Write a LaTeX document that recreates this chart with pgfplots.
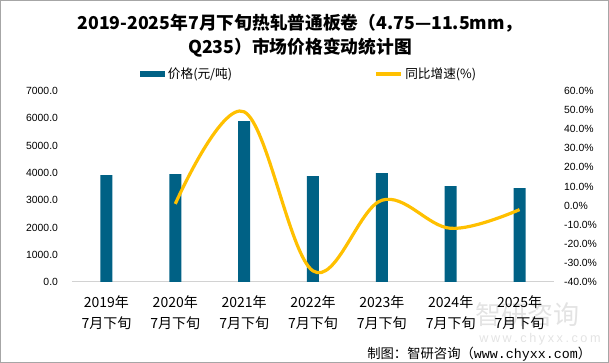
\documentclass[border=0pt]{standalone}
\usepackage{fontspec}
\setmainfont{Liberation Sans}
\newfontfamily\cjk{Noto Sans CJK SC}
\newfontfamily\mono{Liberation Mono}
\usepackage{pgfplots}
\pgfplotsset{compat=1.18}
\definecolor{barblue}{RGB}{0,97,133}
\definecolor{lineyel}{RGB}{255,192,0}
\begin{document}
\begin{tikzpicture}[x=1pt,y=1pt]
% frame
\draw[gray!70, line width=0.75pt] (-53.6,-60.4) rectangle (402.4,211.1);
% watermark
\node[font=\cjk\fontsize{19.5}{20}\selectfont, text=gray!22, anchor=west] at (299,-24.5) {智研咨询};
\node[font=\fontsize{9.5}{10}\selectfont, text=gray!22, anchor=west] at (302,-43) {w\hspace{1.9pt}w\hspace{1.9pt}w\hspace{1.9pt}.\hspace{1.9pt}c\hspace{1.9pt}h\hspace{1.9pt}y\hspace{1.9pt}x\hspace{1.9pt}x\hspace{1.9pt}.\hspace{1.9pt}c\hspace{1.9pt}o\hspace{1.9pt}m};
\begin{axis}[
  at={(0,0)}, anchor=south west,
  scale only axis, width=361.5pt, height=143.25pt,
  xmin=-0.5, xmax=6.5, ymin=0, ymax=7000,
  axis x line*=bottom, axis y line*=left,
  x axis line style={draw=gray!35, line width=0.75pt},
  y axis line style={draw=none},
  major tick length=0pt,
  xtick=data,
  xticklabels={{2019年\\7月下旬},{2020年\\7月下旬},{2021年\\7月下旬},{2022年\\7月下旬},{2023年\\7月下旬},{2024年\\7月下旬},{2025年\\7月下旬}},
  xticklabel style={font=\cjk\fontsize{10.5}{15.5}\selectfont, align=center, yshift=-7pt},
  ytick={0,1000,...,7000},
  yticklabel style={font=\fontsize{7.8}{9}\selectfont, xshift=-7pt},
  /pgf/number format/.cd, fixed, fixed zerofill, precision=1, use period, 1000 sep={}, assume math mode=true,
  /pgfplots/.cd,
  legend style={draw=none, fill=none, at={(0.1328,1.089)}, anchor=west, font=\cjk\fontsize{9.5}{10}\selectfont,
    /tikz/every even column/.append style={column sep=104.5pt}},
  legend columns=2,
  clip=false,
]
\addplot[ybar, bar width=9pt, fill=barblue, draw=none,
  legend image code/.code={\fill[barblue] (0pt,-1.9pt) rectangle (18.75pt,1.9pt);}]
  coordinates {(0,3920) (1,3957) (2,5900) (3,3884) (4,3994) (5,3518) (6,3445)};
\addlegendentry{价格(元/吨)}
\addlegendimage{lineyel, line width=2.6pt, legend image code/.code={\draw[lineyel, line width=2.6pt] (0pt,0pt) -- (18.75pt,0pt);}}
\addlegendentry{同比增速(\%)}
\end{axis}
\begin{axis}[
  at={(0,0)}, anchor=south west,
  scale only axis, width=361.5pt, height=143.25pt,
  xmin=-0.5, xmax=6.5, ymin=-40, ymax=60,
  axis x line=none, axis y line*=right,
  y axis line style={draw=none},
  major tick length=0pt,
  ytick={-40,-30,...,60},
  yticklabel={\pgfmathprintnumber{\tick}\%},
  yticklabel style={font=\fontsize{7.8}{9}\selectfont, xshift=4pt, anchor=west},
  /pgf/number format/.cd, fixed, fixed zerofill, precision=1, use period, assume math mode=true,
  /pgfplots/.cd,
  clip=false,
]
\addplot[lineyel, line width=2.4pt, smooth, tension=0.6]
  coordinates {(1,0.9) (2,49.1) (3,-34.2) (4,2.8) (5,-11.9) (6,-2.1)};
\end{axis}
% title
\node[font=\cjk\bfseries\fontsize{13.3}{14}\selectfont, anchor=base] at (171,189.5) {2019-2025年7月下旬热轧普通板卷（4.75—11.5mm，};
\node[font=\cjk\bfseries\fontsize{13.3}{14}\selectfont, anchor=base] at (171,171.5) {Q235）市场价格变动统计图};
% source
\node[font=\cjk\fontsize{10}{11}\selectfont, anchor=base east] at (393,-57) {制图：智研咨询（{\mono www.chyxx.com}）};
\pgfresetboundingbox
\path[use as bounding box] (-54,-60.75) rectangle (402.75,211.5);
\end{tikzpicture}
\end{document}
